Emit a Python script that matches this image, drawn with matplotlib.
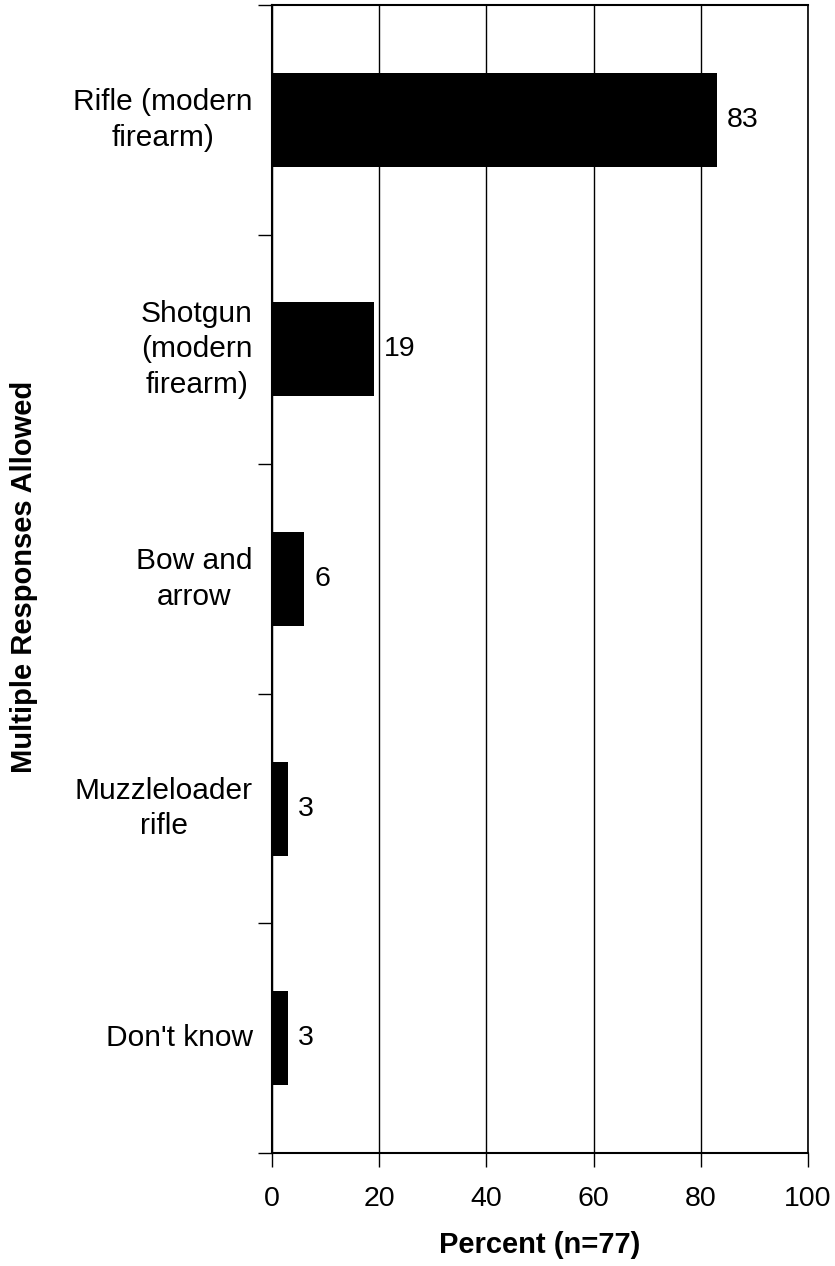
import matplotlib
matplotlib.use("Agg")
import matplotlib.pyplot as plt

categories = ["Rifle (modern\nfirearm)", "Shotgun\n(modern\nfirearm)", "Bow and\narrow",
              "Muzzleloader\nrifle", "Don't know"]
values = [83, 19, 6, 3, 3]
xticks = [0, 20, 40, 60, 80, 100]

plt.rcParams['font.family'] = ['Liberation Sans', 'DejaVu Sans']

fig = plt.figure(figsize=(8.35, 12.66), dpi=100)
ax = fig.add_axes([272/835, 1 - 1153/1266, (808-272)/835, (1153-5)/1266])

n = len(categories)
ypos = list(range(n))
ax.barh(ypos, values, height=0.41, color='black', zorder=3)
for y, v in zip(ypos, values):
    ax.text(v + 1.9, y, f"{v}", va='center', ha='left', fontsize=20.5, zorder=4)

ax.set_xlim(0, 100)
ax.set_ylim(n - 0.5, -0.5)
ax.set_xticks(xticks)
ax.set_xticklabels([str(t) for t in xticks], fontsize=20.5)
ax.tick_params(axis='x', direction='out', length=10, width=1, pad=14)

# category labels at centers; ticks at boundaries
ax.set_yticks([i - 0.5 for i in range(n + 1)])
ax.set_yticklabels([])
ax.tick_params(axis='y', direction='out', length=10, width=1)
for y, c in zip(ypos, categories):
    ax.text(-3.6, y, c, ha='right', va='center', multialignment='center',
            fontsize=21.5, linespacing=1.35, transform=ax.transData)

ax.grid(axis='x', color='black', linewidth=1, zorder=0)
for s in ['left', 'bottom', 'top']:
    ax.spines[s].set_linewidth(1.5)
ax.spines['right'].set_linewidth(1.2)

fig.text(540/835, 1 - 1245/1266, "Percent (n=77)", ha='center', va='center',
         fontsize=21, fontweight='bold')
fig.text(24/835, 1 - 577/1266, "Multiple Responses Allowed", ha='center', va='center',
         rotation=90, fontsize=21, fontweight='bold')

fig.savefig("out.png", dpi=100)
